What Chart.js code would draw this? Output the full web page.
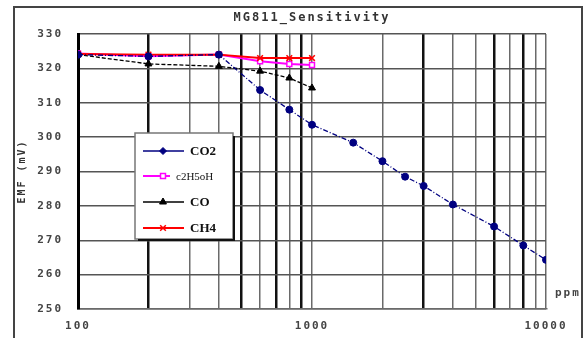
<!DOCTYPE html>
<html>
<head>
<meta charset="utf-8">
<script src="https://cdn.jsdelivr.net/npm/chart.js@4"></script>
<style>
  html, body { margin: 0; padding: 0; background: #fff; }
  #wrap { width: 585px; height: 338px; }
</style>
</head>
<body>
<div id="wrap"><canvas id="chart" width="585" height="338"></canvas></div>
<script>
'use strict';

// Sensor output (mV) against gas concentration (ppm)
let co2Ppm = [100, 200, 400, 600, 800, 1000, 1500, 2000, 2500, 3000, 4000, 6000, 8000, 10000];
let co2Emf = [324, 323.5, 324, 313.7, 308, 303.6, 298.4, 293, 288.5, 285.8, 280.4, 274, 268.5, 264.3];

let gasPpm = [100, 200, 400, 600, 800, 1000];
let ethanolEmf = [324.3, 323.5, 324, 322.1, 321.3, 321];
let coEmf = [324, 321.3, 320.6, 319.2, 317.2, 314.3];
let ch4Emf = [324.2, 324, 324, 323, 323, 323];

let seriesNames = ['CO2', 'c2H5oH', 'CO', 'CH4'];

let yTicks = [250, 260, 270, 280, 290, 300, 310, 320, 330];
let xGridTicks = [100, 200, 300, 400, 500, 600, 700, 800, 900,
  1000, 2000, 3000, 4000, 5000, 6000, 7000, 8000, 9000, 10000];
let xLabelTicks = [100, 1000, 10000];
let heavyLines = [100, 200, 500, 700, 900, 3000, 6000, 8000];

let monoFont = 'DejaVu Sans Mono';

function toPoints(xs, ys) {
  let pts = [];
  for (let i = 0; i < xs.length; i++) {
    pts.push({ x: xs[i], y: ys[i] });
  }
  return pts;
}

// outer frame and the wide bitmap-style lettering
let framePlugin = {
  id: 'frame',
  beforeDraw(chart) {
    let ctx = chart.ctx;
    ctx.save();
    ctx.fillStyle = '#fff';
    ctx.fillRect(0, 0, chart.width, chart.height);
    ctx.strokeStyle = '#444';
    ctx.lineWidth = 2;
    ctx.beginPath();
    ctx.moveTo(14, chart.height);
    ctx.lineTo(14, 7);
    ctx.lineTo(582, 7);
    ctx.lineTo(582, chart.height);
    ctx.stroke();
    ctx.restore();
    ctx.letterSpacing = '2px';
  },
  afterDraw(chart) {
    let ctx = chart.ctx;
    let area = chart.chartArea;
    ctx.save();
    ctx.letterSpacing = '2px';
    ctx.fillStyle = '#444';
    ctx.font = 'bold 11px "' + monoFont + '"';
    ctx.textAlign = 'left';
    ctx.textBaseline = 'middle';
    ctx.fillText('ppm', area.right + 9, area.bottom - 16);
    ctx.restore();
  }
};

// boxed legend sitting inside the plot
let boxLegendPlugin = {
  id: 'boxLegend',
  afterDraw(chart) {
    let ctx = chart.ctx;
    let box = { left: 135, top: 133, right: 233, bottom: 239 };
    let rows = [151, 176, 202, 228];
    ctx.save();
    ctx.letterSpacing = '0px';
    ctx.fillStyle = '#fff';
    ctx.fillRect(box.left, box.top, box.right - box.left, box.bottom - box.top);
    ctx.strokeStyle = '#777';
    ctx.lineWidth = 1.5;
    ctx.strokeRect(box.left, box.top, box.right - box.left, box.bottom - box.top);
    ctx.strokeStyle = '#111';
    ctx.lineWidth = 2;
    ctx.beginPath();
    ctx.moveTo(box.right + 1, box.top + 3);
    ctx.lineTo(box.right + 1, box.bottom + 1);
    ctx.lineTo(box.left + 3, box.bottom + 1);
    ctx.stroke();

    chart.data.datasets.forEach(function (ds, i) {
      let y = rows[i];
      let small = ds.label === 'c2H5oH';
      let x0 = 143;
      let x1 = small ? 170 : 184;
      ctx.setLineDash([]);
      ctx.strokeStyle = ds.borderColor;
      ctx.lineWidth = ds.borderWidth;
      ctx.beginPath();
      ctx.moveTo(x0, y);
      ctx.lineTo(x1, y);
      ctx.stroke();
      ctx.fillStyle = ds.pointBackgroundColor;
      ctx.strokeStyle = ds.pointBorderColor;
      ctx.lineWidth = ds.pointBorderWidth;
      Chart.helpers.drawPoint(ctx, {
        pointStyle: ds.label === 'CO2' ? 'rectRot' : ds.pointStyle,
        rotation: 0,
        radius: ds.pointRadius,
        borderWidth: ds.pointBorderWidth
      }, 163, y);
      ctx.fillStyle = '#111';
      ctx.textAlign = 'left';
      ctx.textBaseline = 'middle';
      ctx.font = small ? '11px "Liberation Serif"' : 'bold 13px "Liberation Serif"';
      ctx.fillText(ds.label, small ? 176 : 190, y + 1);
    });
    ctx.restore();
  }
};

let canvasElem = document.getElementById('chart');

let data = {
  datasets: [{
    label: seriesNames[0],
    data: toPoints(co2Ppm, co2Emf),
    order: 0,
    borderColor: '#000080',
    borderWidth: 1.3,
    borderDash: [5, 2, 1, 2],
    pointStyle: 'circle',
    pointRadius: 3.5,
    pointBackgroundColor: '#000080',
    pointBorderColor: '#000080',
    pointBorderWidth: 1
  }, {
    label: seriesNames[1],
    data: toPoints(gasPpm, ethanolEmf),
    order: 2,
    borderColor: '#ff00ff',
    borderWidth: 2,
    pointStyle: 'rect',
    pointRadius: 3.5,
    pointBackgroundColor: '#ffffff',
    pointBorderColor: '#ff00ff',
    pointBorderWidth: 1.5
  }, {
    label: seriesNames[2],
    data: toPoints(gasPpm, coEmf),
    order: 3,
    borderColor: '#000000',
    borderWidth: 1.3,
    borderDash: [4, 2],
    pointStyle: 'triangle',
    pointRadius: 4,
    pointBackgroundColor: '#000000',
    pointBorderColor: '#000000',
    pointBorderWidth: 1
  }, {
    label: seriesNames[3],
    data: toPoints(gasPpm, ch4Emf),
    order: 1,
    borderColor: '#ff0000',
    borderWidth: 2,
    pointStyle: 'crossRot',
    pointRadius: 4,
    pointBackgroundColor: '#ff0000',
    pointBorderColor: '#ff0000',
    pointBorderWidth: 1.5
  }]
};

let config = {
  type: 'line',
  data: data,
  options: {
    responsive: false,
    animation: false,
    events: [],
    layout: { padding: { left: 0, right: 39, top: 0, bottom: 0 } },
    elements: { line: { tension: 0, fill: false } },
    plugins: {
      legend: { display: false },
      tooltip: { enabled: false },
      title: {
        display: true,
        fullSize: false,
        text: 'MG811_Sensitivity',
        color: '#333',
        font: { family: monoFont, size: 12, weight: 'bold', lineHeight: 1 },
        padding: { top: 12, bottom: 10 }
      }
    },
    scales: {
      x: {
        type: 'logarithmic',
        min: 100,
        max: 10000,
        afterBuildTicks: function (scale) {
          scale.ticks = xGridTicks.map(function (v) { return { value: v }; });
        },
        afterFit: function (scale) { scale.height = 29; },
        ticks: {
          autoSkip: false,
          maxRotation: 0,
          padding: 11,
          color: '#444',
          font: { family: monoFont, size: 11, weight: 'bold' },
          callback: function (value) {
            return xLabelTicks.indexOf(value) >= 0 ? String(value) : '';
          }
        },
        grid: {
          drawTicks: false,
          color: function (ctx) {
            return heavyLines.indexOf(ctx.tick.value) >= 0 ? '#111' : '#6a6a6a';
          },
          lineWidth: function (ctx) {
            return heavyLines.indexOf(ctx.tick.value) >= 0 ? 2.5 : 1.5;
          }
        },
        border: { display: true, color: '#6a6a6a', width: 1.5 }
      },
      y: {
        min: 250,
        max: 330,
        afterBuildTicks: function (scale) {
          scale.ticks = yTicks.map(function (v) { return { value: v }; });
        },
        afterFit: function (scale) { scale.width = 78; },
        title: {
          display: true,
          text: 'EMF (mV)',
          color: '#333',
          font: { family: monoFont, size: 10, weight: 'bold', lineHeight: 1 },
          padding: { top: 17, bottom: 0 }
        },
        ticks: {
          padding: 15,
          color: '#444',
          font: { family: monoFont, size: 11, weight: 'bold' }
        },
        grid: {
          drawTicks: false,
          color: '#555',
          lineWidth: 1.5
        },
        border: { display: true, color: '#000', width: 3 }
      }
    }
  },
  plugins: [framePlugin, boxLegendPlugin]
};

new Chart(canvasElem, config);
</script>
</body>
</html>
